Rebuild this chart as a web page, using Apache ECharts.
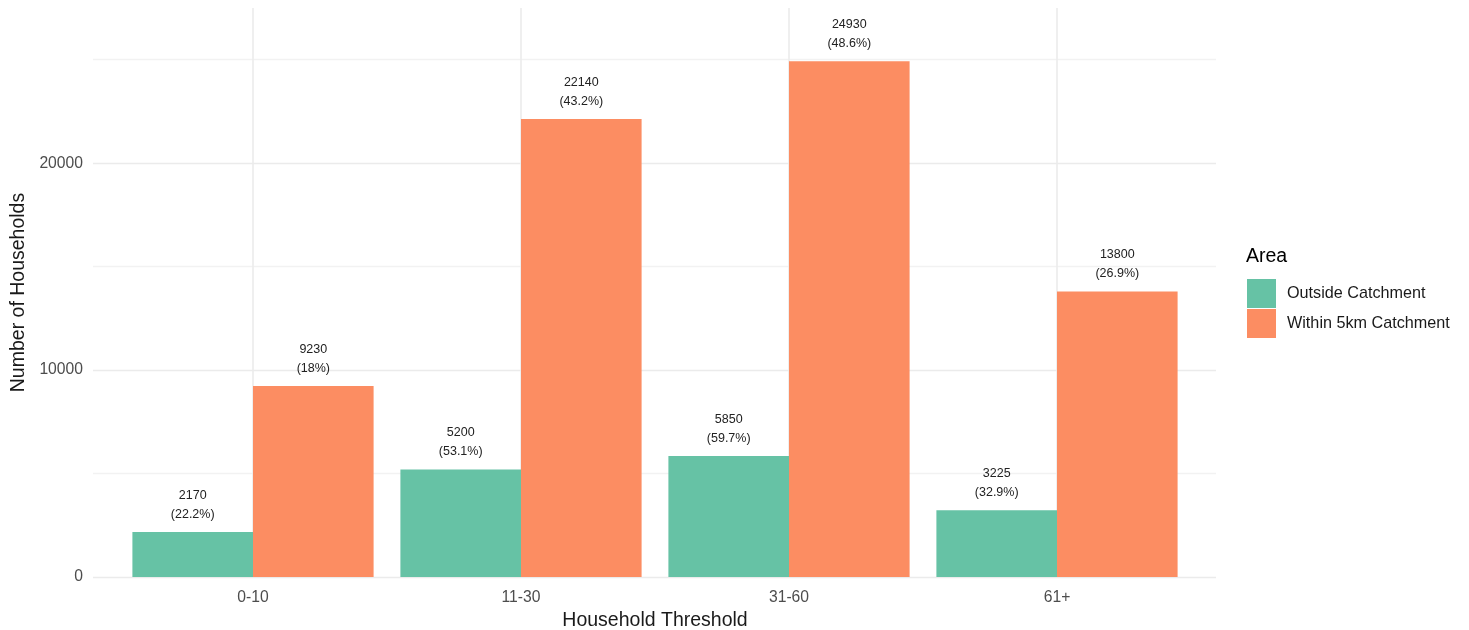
<!DOCTYPE html>
<html>
<head>
<meta charset="utf-8">
<script src="https://cdn.jsdelivr.net/npm/echarts@6/dist/echarts.min.js"></script>
<style>
  html, body { margin: 0; padding: 0; background: #fff; }
  #chart { width: 1469px; height: 630px; }
</style>
</head>
<body>
<div id="chart"></div>
<script>
// ==================
// DATA
// ==================
const categories = ['0-10', '11-30', '31-60', '61+'];
const outsideValues = [2170, 5200, 5850, 3225];
const outsidePct = [22.2, 53.1, 59.7, 32.9];
const withinValues = [9230, 22140, 24930, 13800];
const withinPct = [18, 43.2, 48.6, 26.9];
const seriesNames = ['Outside Catchment', 'Within 5km Catchment'];
const colors = ['#66c2a5', '#fc8d62'];

// ==================
// LAYOUT
// ==================
const FONT = '"Liberation Sans", Arial, sans-serif';
const panelTop = 8;
const bottom = 53;
const yMax = 27500;
const MAJOR = '#ebebeb';
const MINOR = '#f2f2f2';

const chart = echarts.init(document.getElementById('chart'));

function labelFor(pcts) {
    return p => p.value + '\n(' + pcts[p.dataIndex] + '%)';
}

function barSeries(name, values, pcts, color) {
    return {
        name: name,
        type: 'bar',
        xAxisIndex: 1,
        yAxisIndex: 1,
        data: values,
        barGap: '0%',
        barCategoryGap: '10%',
        z: 3,
        itemStyle: { color: color },
        label: {
            show: true,
            position: 'top',
            distance: 8,
            formatter: labelFor(pcts),
            fontFamily: FONT,
            fontSize: 12.5,
            lineHeight: 19,
            color: '#222'
        }
    };
}

const option = {
    backgroundColor: '#fff',
    animation: false,
    title: {
        text: 'Area',
        left: 1246,
        top: 247,
        padding: 0,
        textStyle: { fontFamily: FONT, fontSize: 19.5, fontWeight: 'normal', color: '#000' }
    },
    legend: {
        orient: 'vertical',
        left: 1247,
        top: 279,
        padding: 0,
        icon: 'rect',
        itemWidth: 29,
        itemHeight: 29,
        itemGap: 1,
        data: seriesNames,
        textStyle: { fontFamily: FONT, fontSize: 16.2, color: '#1a1a1a', padding: [0, 0, 0, 6] }
    },
    grid: [
        { left: 93, right: 253, top: panelTop, bottom: bottom, containLabel: false, outerBoundsMode: 'none' },
        { left: 119, right: 278, top: panelTop, bottom: bottom, containLabel: false, outerBoundsMode: 'none' }
    ],
    xAxis: [
        { gridIndex: 0, type: 'value', min: 0, max: 1, show: false },
        {
            gridIndex: 1,
            type: 'category',
            data: categories,
            name: 'Household Threshold',
            nameLocation: 'middle',
            nameGap: 28,
            nameTextStyle: { fontFamily: FONT, fontSize: 19.5, color: '#1a1a1a' },
            axisLine: { show: false },
            axisTick: { show: false },
            splitLine: { show: false },
            axisLabel: { fontFamily: FONT, fontSize: 15.7, color: '#4d4d4d', margin: 13 }
        }
    ],
    yAxis: [
        {
            // background grid: major at 10000s, minor at 5000s, nothing at the panel top
            gridIndex: 0,
            type: 'value',
            min: 0,
            max: yMax,
            interval: 5000,
            axisLine: { show: false },
            axisTick: { show: false },
            axisLabel: {
                fontFamily: FONT, fontSize: 15.7, color: '#4d4d4d', margin: 10,
                formatter: v => (v % 10000 === 0 ? String(v) : '')
            },
            splitLine: {
                show: true,
                lineStyle: {
                    color: [MAJOR, MINOR, MAJOR, MINOR, MAJOR, MINOR, 'rgba(0,0,0,0)'],
                    width: 1.4
                }
            }
        },
        {
            gridIndex: 1,
            type: 'value',
            min: 0,
            max: yMax,
            name: 'Number of Households',
            nameLocation: 'middle',
            nameGap: 90,
            nameTextStyle: { fontFamily: FONT, fontSize: 19.5, color: '#1a1a1a' },
            axisLine: { show: false },
            axisTick: { show: false },
            axisLabel: { show: false },
            splitLine: { show: false }
        }
    ],
    series: [
        {
            // vertical grid lines at category centres
            type: 'line',
            xAxisIndex: 1,
            yAxisIndex: 1,
            data: [],
            z: 1,
            silent: true,
            markLine: {
                silent: true,
                z: 1,
                symbol: 'none',
                label: { show: false },
                lineStyle: { color: MAJOR, width: 1.6, type: 'solid' },
                data: categories.map(c => ({ xAxis: c }))
            }
        },
        barSeries(seriesNames[0], outsideValues, outsidePct, colors[0]),
        barSeries(seriesNames[1], withinValues, withinPct, colors[1])
    ]
};

chart.setOption(option);
</script>
</body>
</html>
